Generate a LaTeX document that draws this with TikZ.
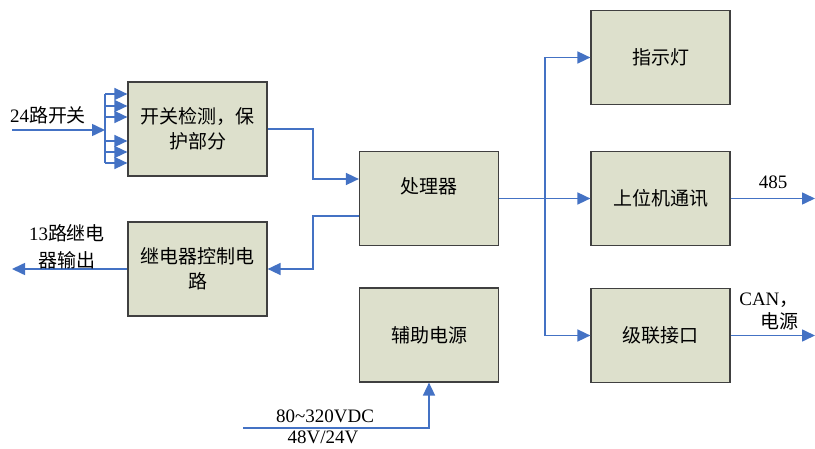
\documentclass[tikz,border=0pt]{standalone}
\usepackage{fontspec}
\setmainfont{Liberation Serif}
\newfontfamily\cjk{Noto Sans CJK SC}
\usetikzlibrary{arrows.meta}

\definecolor{boxfill}{RGB}{221,224,204}
\definecolor{wireblue}{RGB}{68,114,196}

\begin{document}
\begin{tikzpicture}[x=1pt,y=1pt,
    block/.style={draw=black!75,line width=1.2pt,fill=boxfill,
      minimum width=139pt,minimum height=94pt,align=center,
      font=\cjk\fontsize{19}{25}\selectfont},
    wire/.style={wireblue,line width=1.6pt},
    feed/.style={wire,-{Triangle[length=13pt,width=12pt]}},
    lbl/.style={align=center,font=\fontsize{19}{25}\selectfont}]

  \useasboundingbox (0,0) rectangle (815,448);

  % -------- BLOCKS --------
  \node[block] (sw)    at (197.5,319)   {开关检测，保\\护部分};
  \node[block] (relay) at (197.5,179)   {继电器控制电\\路};
  \node[block] (proc)  at (429,249.5)   {处理器\\~};
  \node[block] (aux)   at (429,113)     {辅助电源};
  \node[block] (lamp)  at (660.5,390.5) {指示灯};
  \node[block] (host)  at (660.5,249.5) {上位机通讯};
  \node[block] (casc)  at (660.5,112.5) {级联接口};

  % Helper points
  \coordinate (swin)   at (12,318);   % switch input start
  \coordinate (fan)    at (105,318);  % fan-out bus
  \coordinate (mid)    at (313,0);    % column between sw/relay and proc
  \coordinate (pbus)   at (545,0);    % processor output bus
  \coordinate (relout) at (12,179);
  \coordinate (rsout)  at (815,249.5);
  \coordinate (canout) at (815,112.5);
  \coordinate (vin)    at (243,20);

  % -------- INPUT SWITCHES --------
  \draw[feed] (swin) -- (fan);
  \draw[wire] (fan |- 0,354) -- (fan |- 0,285);
  \foreach \y in {354,342,331,307,296,285} {
      \draw[feed] (fan |- 0,\y) -- (sw.west |- 0,\y);
  }
  \node[lbl] (swlbl) at (48,333) {24{\cjk 路开关}};

  % -------- PROCESSOR IN / OUT --------
  \draw[feed] (sw.east) -| (mid |- 0,269) -- ([yshift=19.5pt]proc.west);
  \draw[feed] ([yshift=-17.5pt]proc.west) -| (mid |- relay.east) -- (relay.east);
  \draw[feed] (relay.west) -- (relout);
  \node[lbl,font=\fontsize{19}{27}\selectfont] (rellbl) at (67,201) {13{\cjk 路继电}\\{\cjk 器输出}};

  % Output bus
  \foreach \dst in {lamp,host,casc} {
      \draw[feed] (proc.east) -- (pbus |- proc.east) |- (\dst.west);
  }

  % -------- EXTERNAL LINKS --------
  \draw[feed] (host.east) -- (rsout);
  \node[lbl] (rslbl) at (773,266) {485};
  \draw[feed] (casc.east) -- (canout);
  \node[lbl,align=right,anchor=east,font=\fontsize{19}{23}\selectfont] (canlbl)
      at (802,136.5) {CAN{\cjk ，}\\{\cjk 电源}};

  % Supply input
  \draw[feed] (vin) -| (aux.south);
  \node[lbl] (vlbl1) at (325,32) {80\textasciitilde320VDC};
  \node[lbl] (vlbl2) at (323,11) {48V/24V};

\end{tikzpicture}
\end{document}
